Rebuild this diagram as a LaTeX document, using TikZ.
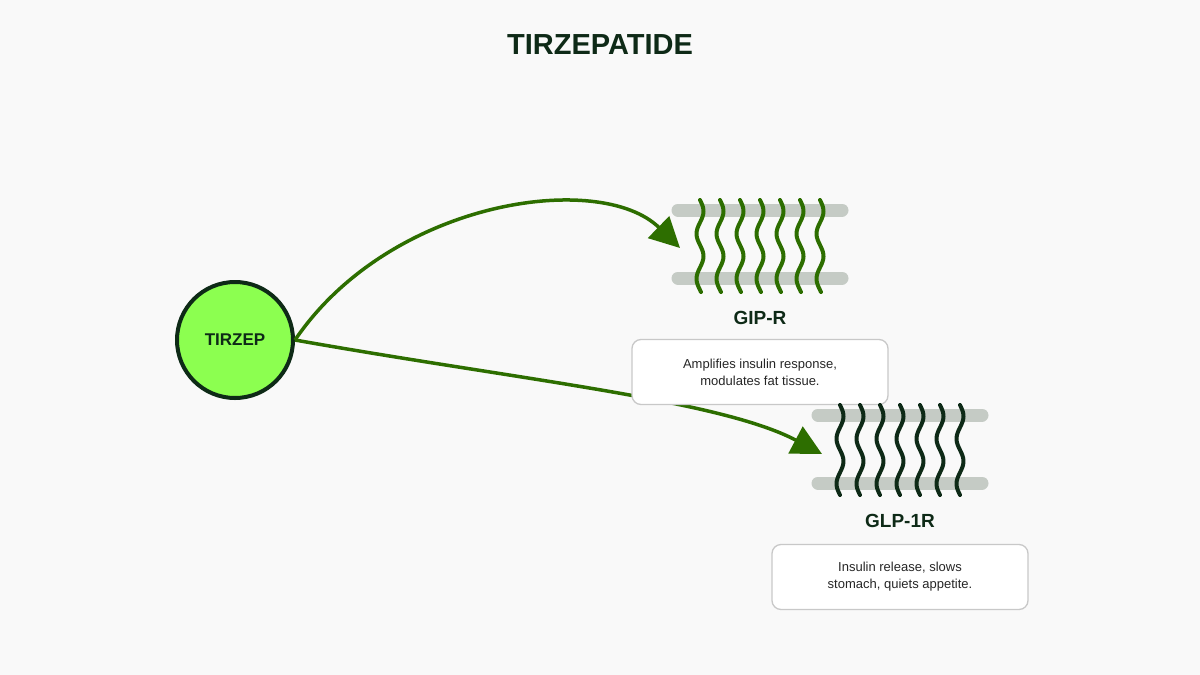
\documentclass[tikz,border=0pt]{standalone}
\usepackage{fontspec}
\setmainfont{Liberation Sans}
\usetikzlibrary{arrows.meta}
\definecolor{bg}{HTML}{F9F9F9}
\definecolor{dk}{HTML}{0E2A17}
\definecolor{gr}{HTML}{2D6E00}
\definecolor{lime}{HTML}{8CFF50}
\definecolor{bar}{HTML}{C5CBC5}
\definecolor{bx}{HTML}{C8C8C8}
\begin{document}
\begin{tikzpicture}[x=1pt,y=-1pt,
  conn/.style={draw=gr,line width=3.5pt,-{Triangle[length=30pt,width=30pt]}},
  barl/.style={draw=bar,line width=13pt,line cap=round},
  wave/.style={line width=4pt,line cap=round},
  lbl/.style={font=\bfseries\fontsize{19}{22}\selectfont,text=dk},
  box/.style={draw=bx,line width=1.3pt,fill=white,rounded corners=9pt,minimum width=256pt,minimum height=65pt,align=center,font=\fontsize{13}{17}\selectfont,text=black!85}]
\fill[bg] (0,0) rectangle (1200,675);
\node[font=\bfseries\fontsize{29}{34}\selectfont,text=dk] (title) at (600,45) {TIRZEPATIDE};
\node[circle,draw=dk,line width=4pt,fill=lime,minimum size=116pt,font=\bfseries\fontsize{17}{20}\selectfont,text=dk] (tz) at (235,340) {TIRZEP};
\coordinate (g1) at (680,248);
\coordinate (g2) at (822,454);
\draw[conn] (tz.east) .. controls (390,200) and (600,170) .. (g1);
\draw[conn] (tz.east) .. controls (520,380) and (720,400) .. (g2);
% GIP-R
\draw[barl] (678,210) -- (842,210);
\draw[barl] (678,278) -- (842,278);
\foreach \i in {0,...,6}
  \draw[wave,gr] plot[domain=0:92,samples=40,smooth] ({700+20*\i+3.5*sin(8*\x)},{200+\x});
\node[lbl] (gipl) at (760,318) {GIP-R};
\node[box] (gipb) at (760,372) {Amplifies insulin response,\\modulates fat tissue.};
% GLP-1R
\draw[barl] (818,415) -- (982,415);
\draw[barl] (818,483) -- (982,483);
\foreach \i in {0,...,6}
  \draw[wave,dk] plot[domain=0:90,samples=40,smooth] ({840+20*\i+3.5*sin(8*\x)},{405+\x});
\node[lbl] (glpl) at (900,521) {GLP-1R};
\node[box] (glpb) at (900,577) {Insulin release, slows\\stomach, quiets appetite.};
\end{tikzpicture}
\end{document}
